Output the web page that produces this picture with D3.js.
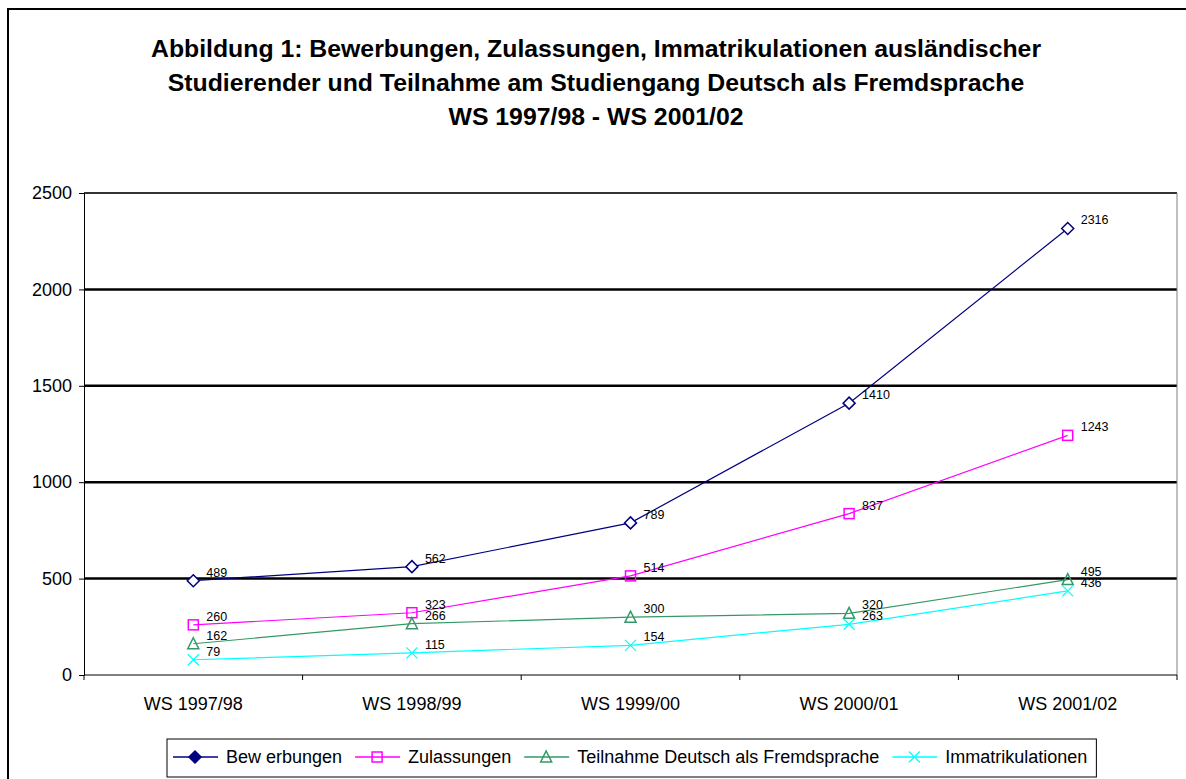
<!DOCTYPE html>
<html>
<head>
<meta charset="utf-8">
<script src="https://cdn.jsdelivr.net/npm/d3@7"></script>
<style>
  body { margin: 0; background: #fff; }
  svg { display: block; font-family: "Liberation Sans", Arial, sans-serif; }
</style>
</head>
<body>
<svg id="chart" width="1186" height="779"></svg>
<script>
// Daten
const kategorien = ['WS 1997/98', 'WS 1998/99', 'WS 1999/00', 'WS 2000/01', 'WS 2001/02'];
const bewerbungen = [489, 562, 789, 1410, 2316];
const zulassungen = [260, 323, 514, 837, 1243];
const teilnahme = [162, 266, 300, 320, 495];
const immatrikulationen = [79, 115, 154, 263, 436];
const yTicks = [0, 500, 1000, 1500, 2000, 2500];
const titelZeilen = [
  'Abbildung 1: Bewerbungen, Zulassungen, Immatrikulationen ausländischer',
  'Studierender und Teilnahme am Studiengang Deutsch als Fremdsprache',
  'WS 1997/98 - WS 2001/02'
];

const reihen = [
  { name: 'Bew erbungen', werte: bewerbungen, farbe: '#000080', marker: 'diamond' },
  { name: 'Zulassungen', werte: zulassungen, farbe: '#ff00ff', marker: 'square' },
  { name: 'Teilnahme Deutsch als Fremdsprache', werte: teilnahme, farbe: '#339966', marker: 'triangle' },
  { name: 'Immatrikulationen', werte: immatrikulationen, farbe: '#00ffff', marker: 'cross' }
];

const svg = d3.select('#chart');
const plot = { left: 84, right: 1177, top: 193, bottom: 675 };

// Rahmen
svg.append('rect')
  .attr('x', 8).attr('y', 9)
  .attr('width', 1200).attr('height', 800)
  .attr('fill', 'none').attr('stroke', '#000').attr('stroke-width', 2);

// Titel
svg.append('g').selectAll('text')
  .data(titelZeilen)
  .enter().append('text')
  .attr('x', 596)
  .attr('y', (d, i) => 57 + i * 34)
  .attr('text-anchor', 'middle')
  .attr('font-size', '24.8px')
  .attr('font-weight', 'bold')
  .text(d => d);

// Skalen
const x = d3.scaleBand().domain(kategorien).range([plot.left, plot.right]).padding(0);
const y = d3.scaleLinear().domain([0, 2500]).range([plot.bottom, plot.top]);
const cx = d => x(d) + x.bandwidth() / 2;

// Gitterlinien
svg.append('g').selectAll('line')
  .data(yTicks.filter(t => t > 0))
  .enter().append('line')
  .attr('x1', plot.left).attr('x2', plot.right)
  .attr('y1', d => y(d)).attr('y2', d => y(d))
  .attr('stroke', d => d === 2500 ? '#333' : '#000')
  .attr('stroke-width', d => d === 2500 ? 2 : 2.5);

// rechte Begrenzung der Zeichenfläche
svg.append('line')
  .attr('x1', plot.right).attr('x2', plot.right)
  .attr('y1', plot.top).attr('y2', plot.bottom)
  .attr('stroke', '#808080').attr('stroke-width', 1);

// Y-Achse
const yAxis = svg.append('g')
  .attr('transform', `translate(${plot.left},0)`)
  .call(d3.axisLeft(y).tickValues(yTicks).tickSize(5).tickPadding(7).tickFormat(d3.format('d')));
yAxis.select('.domain').attr('stroke', '#000');
yAxis.selectAll('text').attr('font-size', '18px').attr('font-family', 'Liberation Sans, Arial, sans-serif').attr('fill', '#000');

// X-Achse
svg.append('line')
  .attr('x1', plot.left).attr('x2', plot.right)
  .attr('y1', plot.bottom).attr('y2', plot.bottom)
  .attr('stroke', '#000');
const grenzen = kategorien.map(k => x(k)).concat([plot.right]);
svg.append('g').selectAll('line')
  .data(grenzen)
  .enter().append('line')
  .attr('x1', d => d).attr('x2', d => d)
  .attr('y1', plot.bottom).attr('y2', plot.bottom + 5)
  .attr('stroke', '#000');
svg.append('g').selectAll('text')
  .data(kategorien)
  .enter().append('text')
  .attr('x', d => cx(d))
  .attr('y', 710)
  .attr('text-anchor', 'middle')
  .attr('font-size', '18px')
  .text(d => d);

// Marker
function zeichneMarker(g, typ, farbe, gefuellt) {
  const fill = gefuellt ? farbe : 'none';
  if (typ === 'diamond') {
    g.append('path').attr('d', 'M0,-6L6,0L0,6L-6,0Z')
      .attr('fill', gefuellt ? farbe : '#fff').attr('stroke', farbe).attr('stroke-width', 1.5);
  } else if (typ === 'square') {
    g.append('rect').attr('x', -5).attr('y', -5).attr('width', 10).attr('height', 10)
      .attr('fill', fill).attr('stroke', farbe).attr('stroke-width', 1.5);
  } else if (typ === 'triangle') {
    g.append('path').attr('d', 'M0,-6L5.5,5L-5.5,5Z')
      .attr('fill', fill).attr('stroke', farbe).attr('stroke-width', 1.5);
  } else {
    g.append('path').attr('d', 'M-5.5,-5.5L5.5,5.5M5.5,-5.5L-5.5,5.5')
      .attr('fill', 'none').attr('stroke', farbe).attr('stroke-width', 1.2);
  }
}

const linie = d3.line().x((d, i) => cx(kategorien[i])).y(d => y(d));

reihen.forEach(r => {
  const g = svg.append('g');
  g.append('path')
    .datum(r.werte)
    .attr('d', linie)
    .attr('fill', 'none')
    .attr('stroke', r.farbe)
    .attr('stroke-width', 1.2);
  r.werte.forEach((v, i) => {
    const m = g.append('g').attr('transform', `translate(${cx(kategorien[i])},${y(v)})`);
    zeichneMarker(m, r.marker, r.farbe, false);
  });
});

// Datenbeschriftungen
reihen.forEach(r => {
  svg.append('g').selectAll('text')
    .data(r.werte)
    .enter().append('text')
    .attr('x', (d, i) => cx(kategorien[i]) + 13)
    .attr('y', d => y(d) - 4)
    .attr('font-size', '12.5px')
    .attr('fill', '#000')
    .text(d => d);
});

// Legende
const legende = svg.append('g');
const legBox = legende.append('rect')
  .attr('y', 739).attr('height', 38)
  .attr('fill', '#fff').attr('stroke', '#000').attr('stroke-width', 1);
let lx = 173;
reihen.forEach((r, i) => {
  legende.append('line')
    .attr('x1', lx).attr('x2', lx + 45)
    .attr('y1', 757).attr('y2', 757)
    .attr('stroke', r.farbe).attr('stroke-width', 1.5);
  const m = legende.append('g').attr('transform', `translate(${lx + 22},757)`);
  zeichneMarker(m, r.marker, r.farbe, i === 0);
  const t = legende.append('text')
    .attr('x', lx + 53).attr('y', 763)
    .attr('font-size', '18px')
    .text(r.name);
  lx = lx + 53 + t.node().getComputedTextLength() + 13;
});
legBox.attr('x', 167).attr('width', lx - 13 + 9 - 167);
</script>
</body>
</html>
